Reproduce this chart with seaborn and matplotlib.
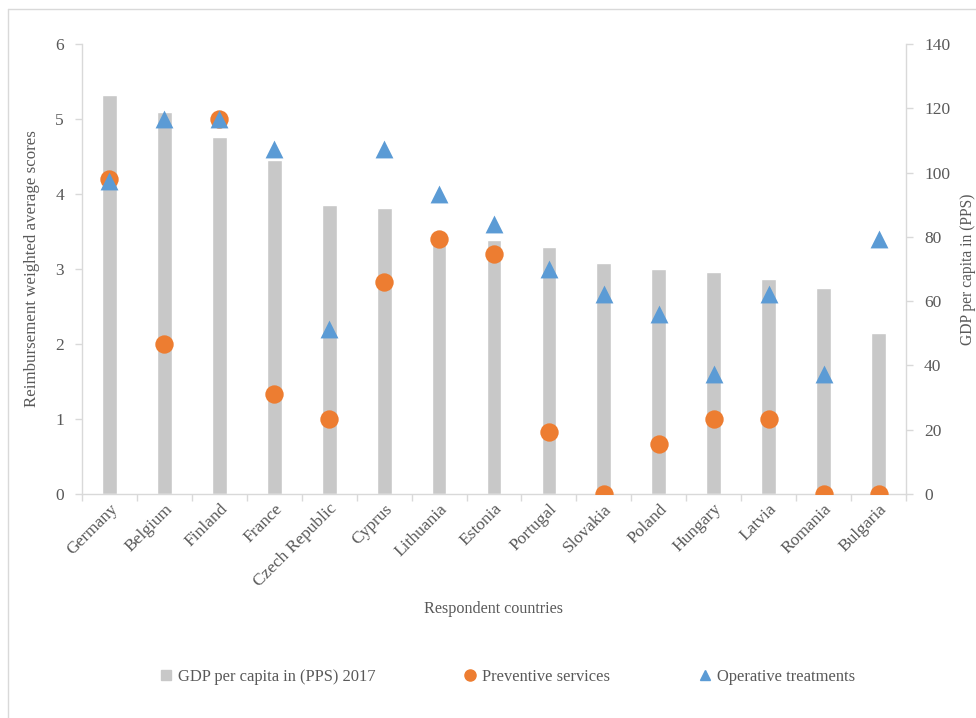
import matplotlib
matplotlib.use("Agg")
import matplotlib.pyplot as plt
import seaborn as sns
import pandas as pd
from matplotlib.lines import Line2D
from matplotlib.ticker import FixedLocator

countries = ["Germany", "Belgium", "Finland", "France", "Czech Republic", "Cyprus",
             "Lithuania", "Estonia", "Portugal", "Slovakia", "Poland", "Hungary",
             "Latvia", "Romania", "Bulgaria"]
gdp = [124, 119, 111, 104, 90, 89, 79, 79, 77, 72, 70, 69, 67, 64, 50]
preventive = [4.2, 2.0, 5.0, 1.33, 1.0, 2.83, 3.4, 3.2, 0.83, 0.0, 0.67, 1.0, 1.0, 0.0, 0.0]
operative = [4.17, 5.0, 5.0, 4.6, 2.2, 4.6, 4.0, 3.6, 3.0, 2.67, 2.4, 1.6, 2.67, 1.6, 3.4]
left_ticks = [0, 1, 2, 3, 4, 5, 6]
right_ticks = [0, 20, 40, 60, 80, 100, 120, 140]

df = pd.DataFrame({"country": countries, "gdp": gdp,
                   "preventive": preventive, "operative": operative})

sns.set_theme(style="white")
plt.rcParams['font.family'] = ['Liberation Serif', 'DejaVu Serif']

TEXT = '#595959'
SPINE = '#D9D9D9'
GRAY = '#C8C8C8'
ORANGE = '#ED7D31'
BLUE = '#5B9BD5'
FS = 12.5

fig = plt.figure(figsize=(9.76, 7.18), dpi=100)
ax = fig.add_axes([82/976, 1 - 494/718, (906-82)/976, (494-44)/718])
ax2 = ax.twinx()

sns.scatterplot(data=df, x="country", y="preventive", ax=ax, color=ORANGE,
                s=175, marker='o', linewidth=0, zorder=3)
sns.scatterplot(data=df, x="country", y="operative", ax=ax, color=BLUE,
                s=165, marker='^', linewidth=0, zorder=4)
sns.barplot(data=df, x="country", y="gdp", ax=ax2, color=GRAY, width=0.27,
            saturation=1, zorder=1)

ax.set_zorder(ax2.get_zorder() + 1)
ax.patch.set_visible(False)

ax.set_xlim(-0.5, len(countries) - 0.5)
ax.set_ylim(0, 6)
ax2.set_ylim(0, 140)
ax.set_yticks(left_ticks)
ax2.set_yticks(right_ticks)

ax.set_xticks(range(len(countries)))
ax.set_xticklabels(countries, rotation=45, ha='right', rotation_mode='anchor',
                   fontsize=FS, color=TEXT)
ax.xaxis.set_minor_locator(FixedLocator([i - 0.5 for i in range(len(countries) + 1)]))
ax.tick_params(axis='x', which='major', length=0, pad=5)
ax.tick_params(axis='x', which='minor', length=5, color=SPINE, width=1, direction='out', bottom=True)
ax.tick_params(axis='y', length=5, color=SPINE, width=1, direction='out',
               labelsize=FS, labelcolor=TEXT, pad=8)
ax2.tick_params(axis='y', length=5, color=SPINE, width=1, direction='out',
                labelsize=FS, labelcolor=TEXT, pad=8)

for a in (ax, ax2):
    for s in a.spines.values():
        s.set_visible(False)
ax.spines['left'].set_visible(True)
ax.spines['bottom'].set_visible(True)
ax2.spines['right'].set_visible(True)
for s in (ax.spines['left'], ax.spines['bottom'], ax2.spines['right']):
    s.set_color(SPINE)
    s.set_linewidth(1)

ax.set_xlabel("Respondent countries", fontsize=11.6, color=TEXT, labelpad=8)
ax.set_ylabel("Reimbursement weighted average scores", fontsize=12.2, color=TEXT, labelpad=11)
ax2.set_ylabel("GDP per capita in (PPS)", fontsize=11.2, color=TEXT, labelpad=7)

handles = [
    Line2D([], [], linestyle='none', marker='s', markersize=7, color=GRAY),
    Line2D([], [], linestyle='none', marker='o', markersize=8, color=ORANGE),
    Line2D([], [], linestyle='none', marker='^', markersize=7, color=BLUE),
]
labels = ["GDP per capita in (PPS) 2017", "Preventive services", "Operative treatments"]
leg = fig.legend(handles, labels, loc='center', bbox_to_anchor=(0.518, 1 - 677/718),
                 ncol=3, frameon=False, fontsize=11.9, columnspacing=5.15,
                 handletextpad=0.1, handlelength=1.2)
for t in leg.get_texts():
    t.set_color(TEXT)

# outer frame lines (top and left only)
fig.add_artist(Line2D([8/976, 1], [1 - 9/718, 1 - 9/718], transform=fig.transFigure,
                      color=SPINE, lw=1))
fig.add_artist(Line2D([8/976, 8/976], [0, 1 - 9/718], transform=fig.transFigure,
                      color=SPINE, lw=1))

fig.savefig("out.png", dpi=100)
